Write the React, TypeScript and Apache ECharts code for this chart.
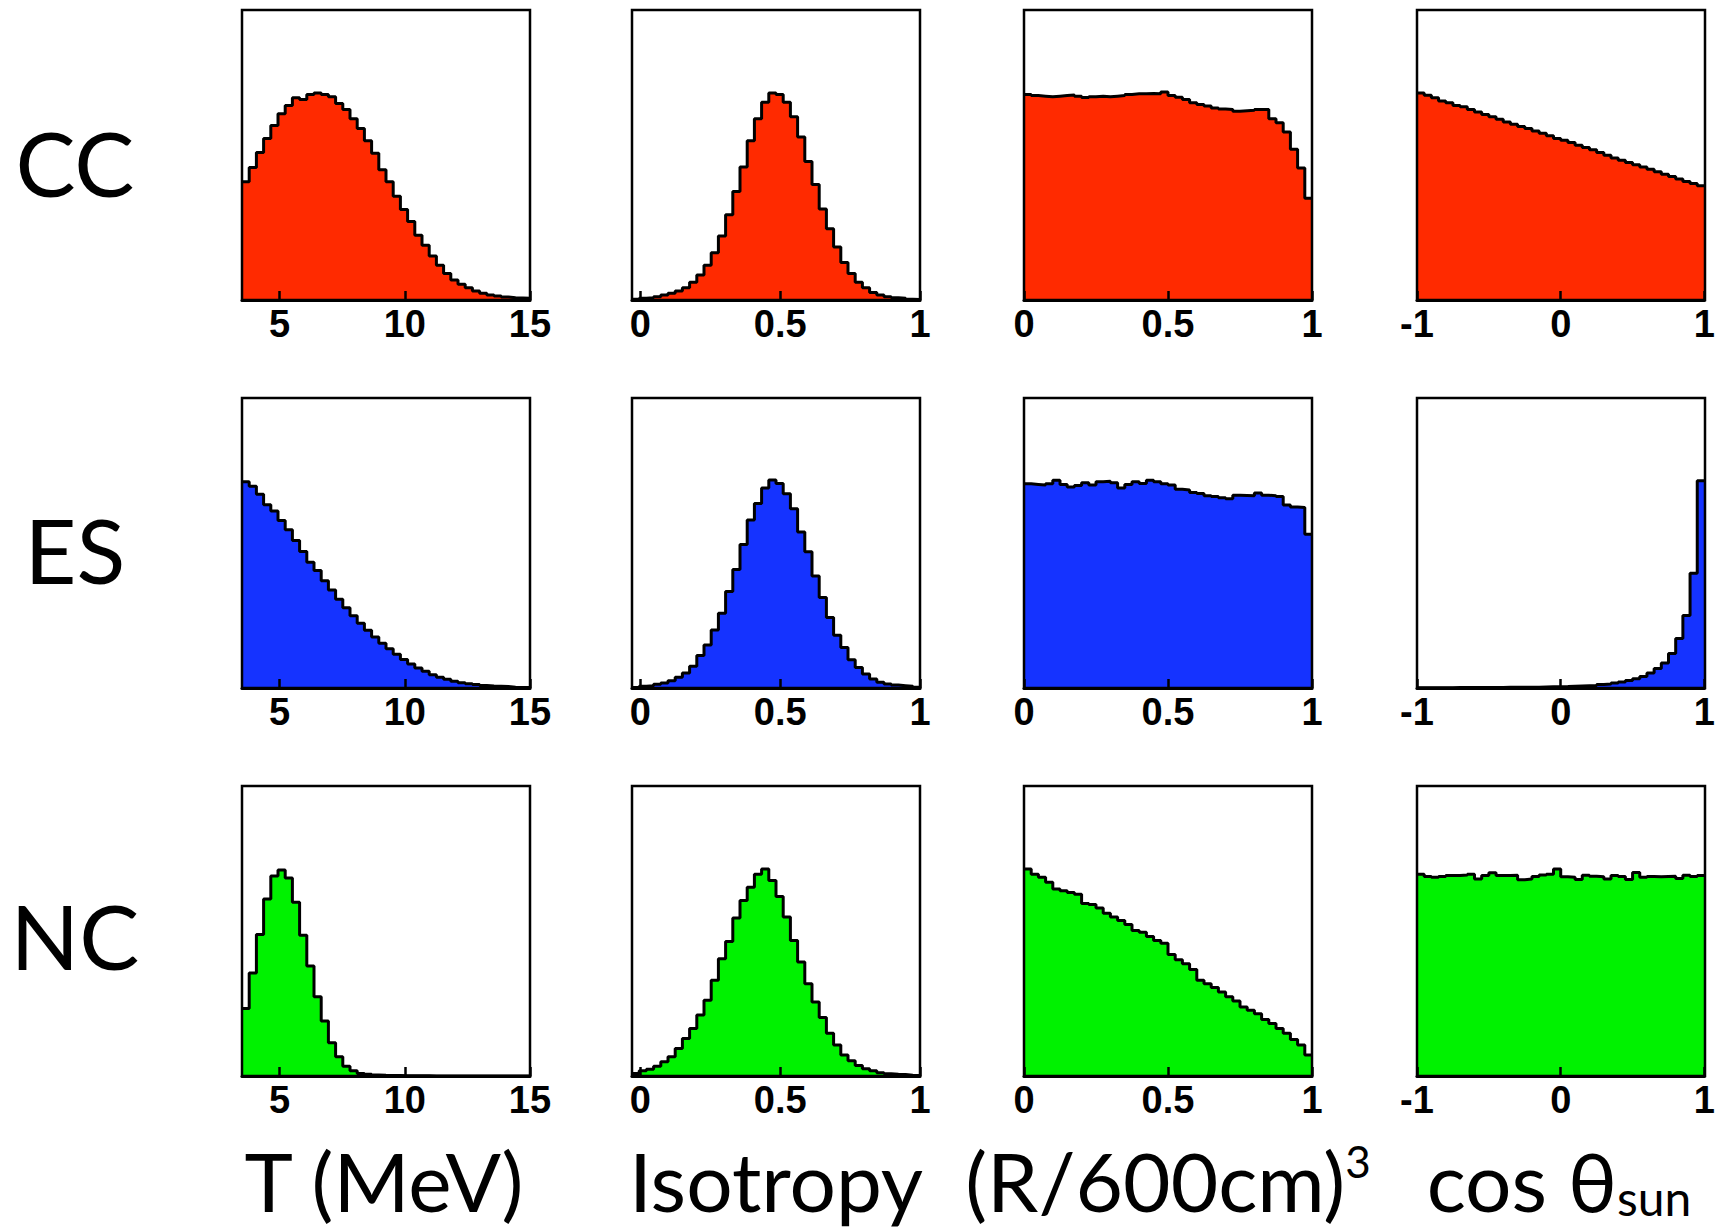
import React, { useEffect, useRef } from "react";
import * as echarts from "echarts";

// ---- data (bin heights as % of panel height, 40 bins each) ----
const ROW_NAMES = ["CC", "ES", "NC"];
const AXIS_TITLES = ["T (MeV)", "Isotropy", "(R/600cm)", "cos θ"];

const CC_T = [40.8, 45.7, 50.9, 55.7, 60.2, 64.2, 67.1, 69.7, 69.1, 70.9, 71.4, 70.9, 70.1, 67.8, 65.7, 62.5, 59.1, 54.9, 50.6, 44.9, 40.8, 35.8, 31.2, 27.1, 22.3, 18.9, 15.2, 12.0, 9.1, 6.9, 5.4, 4.2, 3.1, 2.3, 1.7, 1.4, 1.0, 0.8, 0.7, 0.6];
const CC_ISO = [0.3, 0.6, 0.8, 1.1, 1.7, 2.3, 3.1, 4.2, 6.1, 8.6, 12.0, 16.3, 22.1, 29.4, 37.4, 45.9, 54.9, 62.5, 68.2, 71.4, 70.9, 68.2, 63.2, 56.2, 47.8, 39.8, 31.4, 24.6, 18.3, 12.9, 9.1, 6.1, 4.2, 2.6, 1.7, 1.1, 0.8, 0.6, 0.3, 0.2];
const CC_R3 = [70.9, 70.5, 70.3, 70.1, 70.3, 70.5, 70.7, 70.3, 69.8, 70.1, 70.3, 70.1, 70.3, 70.5, 70.9, 71.1, 71.1, 71.2, 71.1, 71.7, 70.5, 69.9, 69.1, 68.0, 67.4, 66.9, 66.2, 65.9, 65.7, 65.1, 65.3, 65.4, 65.7, 65.7, 62.5, 61.1, 57.9, 52.0, 45.5, 35.1];
const CC_COS = [71.4, 70.6, 69.7, 68.6, 68.0, 67.1, 66.6, 65.7, 64.8, 64.0, 63.2, 62.3, 61.4, 60.6, 59.8, 59.1, 58.3, 57.5, 56.6, 55.7, 55.1, 54.3, 53.4, 52.6, 51.8, 50.9, 49.9, 49.0, 48.2, 47.4, 46.6, 45.9, 45.1, 44.2, 43.4, 42.6, 41.7, 40.9, 40.2, 39.4];

const ES_T = [71.1, 69.6, 66.8, 63.2, 61.0, 57.8, 54.6, 50.9, 47.1, 43.4, 40.5, 37.0, 33.8, 30.6, 27.7, 24.9, 22.3, 19.9, 17.6, 15.4, 13.5, 11.6, 9.8, 8.3, 6.9, 5.8, 4.6, 3.7, 3.0, 2.3, 1.8, 1.5, 1.2, 0.9, 0.7, 0.6, 0.5, 0.3, 0.2, 0.2];
const ES_ISO = [0.2, 0.6, 0.8, 1.3, 1.7, 2.5, 3.7, 5.2, 7.5, 11.2, 14.8, 20.0, 25.8, 33.3, 40.9, 49.5, 57.9, 63.6, 69.0, 71.7, 70.5, 67.0, 61.8, 53.8, 47.0, 38.6, 31.2, 24.3, 18.2, 14.0, 9.7, 7.1, 4.8, 3.1, 2.0, 1.4, 1.0, 0.8, 0.6, 0.3];
const ES_R3 = [70.4, 70.2, 70.0, 70.4, 71.6, 70.2, 69.3, 69.8, 70.8, 70.0, 71.1, 71.3, 70.8, 69.0, 70.2, 71.1, 70.5, 71.6, 71.1, 70.4, 70.0, 68.5, 68.3, 67.4, 67.1, 66.3, 66.0, 65.6, 65.3, 66.5, 66.4, 66.3, 67.2, 66.5, 66.3, 66.0, 63.1, 62.4, 62.2, 53.0];
const ES_COS = [0.1, 0.1, 0.1, 0.1, 0.1, 0.15, 0.15, 0.15, 0.2, 0.2, 0.2, 0.2, 0.25, 0.25, 0.25, 0.3, 0.3, 0.35, 0.4, 0.45, 0.5, 0.6, 0.7, 0.8, 0.9, 1.2, 1.4, 1.7, 2.1, 2.6, 3.2, 4.0, 5.2, 6.7, 8.6, 11.9, 17.1, 25.0, 39.6, 71.5];

const NC_T = [23.3, 35.5, 48.8, 61.0, 69.0, 71.0, 68.3, 59.9, 48.5, 37.9, 27.3, 19.0, 11.5, 6.6, 3.4, 1.8, 0.9, 0.6, 0.35, 0.25, 0.2, 0.15, 0.1, 0.1, 0.05, 0.05, 0, 0, 0, 0, 0, 0, 0, 0, 0, 0, 0, 0, 0, 0];
const NC_ISO = [0.9, 1.8, 2.3, 3.4, 4.9, 6.6, 9.5, 12.9, 16.4, 21.0, 26.1, 33.0, 40.4, 46.4, 54.5, 60.5, 65.1, 69.6, 71.4, 67.4, 61.9, 54.8, 46.7, 39.3, 31.8, 25.5, 20.2, 14.7, 10.7, 7.2, 5.3, 3.6, 2.5, 1.8, 1.1, 0.8, 0.6, 0.5, 0.3, 0.2];
const NC_R3 = [71.4, 69.6, 68.5, 66.8, 64.5, 63.9, 63.3, 62.7, 59.5, 59.1, 57.9, 56.1, 54.8, 53.6, 52.2, 50.2, 49.6, 48.1, 46.7, 45.8, 41.9, 40.1, 38.7, 36.7, 33.0, 31.8, 30.5, 29.0, 27.3, 25.9, 23.8, 22.7, 21.5, 19.5, 18.1, 16.4, 14.7, 12.6, 10.7, 7.2];
const NC_COS = [69.6, 68.8, 68.5, 68.8, 69.1, 69.1, 69.3, 69.6, 67.9, 69.1, 70.1, 69.1, 69.1, 69.2, 67.7, 67.9, 68.8, 69.3, 69.6, 71.4, 68.7, 68.5, 67.8, 69.2, 68.9, 68.7, 67.9, 69.1, 68.8, 67.8, 70.2, 68.5, 68.8, 68.7, 68.8, 68.9, 68.1, 69.2, 68.8, 69.1];

// x ranges and tick labels per column
const X_MIN = [3.5, -0.03, 0, -1];
const X_MAX = [15, 1, 1, 1];
const T_TICKS = [5, 10, 15];
const ISO_TICKS = [0, 0.5, 1];
const R3_TICKS = [0, 0.5, 1];
const COS_TICKS = [-1, 0, 1];
const COL_TICKS = [T_TICKS, ISO_TICKS, R3_TICKS, COS_TICKS];

const ROW_DATA = [
  [CC_T, CC_ISO, CC_R3, CC_COS],
  [ES_T, ES_ISO, ES_R3, ES_COS],
  [NC_T, NC_ISO, NC_R3, NC_COS],
];
const ROW_COLORS = ["#ff2a00", "#1533ff", "#00f200"];

// ---- layout ----
const COL_LEFT = [242, 632, 1024, 1417];
const ROW_TOP = [10, 398, 786];
const PW = 288;
const PH = 290;

function stepData(values: number[], min: number, max: number) {
  const n = values.length;
  const w = (max - min) / n;
  const pts: number[][] = values.map((v, i) => [min + i * w, v]);
  pts.push([max, values[n - 1]]);
  return pts;
}

export default function App() {
  const ref = useRef<HTMLDivElement>(null);
  useEffect(() => {
    if (!ref.current) return;
    const chart = echarts.init(ref.current, null, { renderer: "svg" });
    const grid: any[] = [];
    const xAxis: any[] = [];
    const yAxis: any[] = [];
    const series: any[] = [];
    const graphic: any[] = [];
    for (let r = 0; r < 3; r++) {
      for (let c = 0; c < 4; c++) {
        const idx = r * 4 + c;
        grid.push({ left: COL_LEFT[c], top: ROW_TOP[r], width: PW, height: PH, show: false });
        xAxis.push({
          type: "value",
          gridIndex: idx,
          min: X_MIN[c],
          max: X_MAX[c],
          z: 10,
          splitLine: { show: false },
          axisLine: { show: true, lineStyle: { color: "#000", width: 3 } },
          axisTick: {
            show: true,
            inside: true,
            length: 9,
            customValues: COL_TICKS[c],
            lineStyle: { color: "#000", width: 2.5 },
          },
          axisLabel: {
            customValues: COL_TICKS[c],
            formatter: (v: number) => String(v),
            fontSize: 38,
            fontWeight: "bold",
            fontFamily: "Liberation Sans, Arial, sans-serif",
            color: "#000",
            margin: 5,
          },
        });
        yAxis.push({ type: "value", gridIndex: idx, min: 0, max: 100, show: false });
        series.push({
          type: "line",
          xAxisIndex: idx,
          yAxisIndex: idx,
          step: "end",
          symbol: "none",
          silent: true,
          z: 2,
          data: stepData(ROW_DATA[r][c], X_MIN[c], X_MAX[c]),
          lineStyle: { color: "#000", width: 3 },
          areaStyle: { color: ROW_COLORS[r], opacity: 1 },
        });
        graphic.push({
          type: "rect",
          z: 100,
          silent: true,
          shape: { x: COL_LEFT[c], y: ROW_TOP[r], width: PW, height: PH },
          style: { fill: "none", stroke: "#000", lineWidth: 2.5 },
        });
      }
    }
    const rowCenters = [162, 549, 935];
    ROW_NAMES.forEach((name, r) => {
      graphic.push({
        type: "text",
        z: 100,
        style: {
          text: name,
          x: 75,
          y: rowCenters[r],
          align: "center",
          verticalAlign: "middle",
          fontSize: 90,
          fontFamily: "Lato, 'Open Sans', sans-serif",
          fill: "#000",
        },
      });
    });
    const titleCenters = [384, 776, 1168, 1559];
    const titleTexts = [
      AXIS_TITLES[0],
      AXIS_TITLES[1],
      AXIS_TITLES[2] + "{sup|3}",
      AXIS_TITLES[3] + "{sub|sun}",
    ];
    titleTexts.forEach((t, c) => {
      graphic.push({
        type: "text",
        z: 100,
        style: {
          text: t,
          x: titleCenters[c],
          y: 1180,
          align: "center",
          verticalAlign: "middle",
          fontSize: 82,
          fontFamily: "Lato, 'Open Sans', sans-serif",
          fill: "#000",
          rich: {
            sup: { fontSize: 44, verticalAlign: "top", fontFamily: "Lato, sans-serif", fill: "#000" },
            sub: { fontSize: 48, verticalAlign: "bottom", fontFamily: "Lato, sans-serif", fill: "#000" },
          },
        },
      });
    });
    chart.setOption({
      animation: false,
      backgroundColor: "#fff",
      grid,
      xAxis,
      yAxis,
      series,
      graphic,
    });
    return () => chart.dispose();
  }, []);
  return (
    <div
      ref={ref}
      style={{ position: "absolute", left: 0, top: 0, width: 1718, height: 1230 }}
    />
  );
}
